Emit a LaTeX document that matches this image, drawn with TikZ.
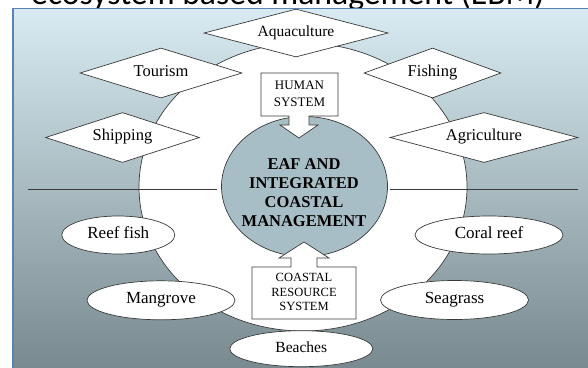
\documentclass[tikz,border=0pt]{standalone}
\usepackage{fontspec}
\setmainfont{Liberation Serif}
\newfontfamily\titlefont{Carlito}
\usetikzlibrary{shapes.geometric}
\definecolor{bgtop}{HTML}{D8EBF2}
\definecolor{bgbot}{HTML}{788A8F}
\definecolor{corefill}{HTML}{A8BEC6}
\definecolor{edgecol}{HTML}{3A3A3A}
\definecolor{framecol}{HTML}{5A82B4}
\begin{document}
\begin{tikzpicture}[x=1pt,y=-1pt,
  outl/.style={draw=edgecol, line width=0.7pt},
  dia/.style={diamond, outl, fill=white, inner sep=0pt, aspect=3.5,
    text height=0.66em, text depth=0pt, font=\fontsize{16.5}{18}\selectfont},
  oval/.style={ellipse, outl, fill=white, inner sep=0pt,
    text height=0.66em, text depth=0pt, font=\fontsize{17}{19}\selectfont},
  boxtext/.style={inner sep=0pt, align=center},
  sepline/.style={draw=edgecol, line width=0.8pt}]
\useasboundingbox (0,0) rectangle (588,367);
\begin{scope}
\clip (0,0) rectangle (588,367);
% title (cut off at the top)
\node[anchor=base west, inner sep=0pt, font=\titlefont\fontsize{33.7}{36}\selectfont] (title) at (31,4) {ecosystem based management (EBM)};
% panel
\shade[top color=bgtop, bottom color=bgbot] (13,8.5) rectangle (590,369);
\draw[framecol, line width=1.3pt] (13,369) -- (13,8.5) -- (590,8.5);
% outer white circle
\node[ellipse, outl, fill=white, inner sep=0pt, minimum width=328pt, minimum height=288pt] (outer) at (303,187) {};
% separator lines
\coordinate (l1) at (28,189);
\coordinate (l2) at (217,189);
\coordinate (r1) at (390,189);
\coordinate (r2) at (578,189);
\draw[sepline] (l1) -- (l2);
\draw[sepline] (r1) -- (r2);
% core
\node[ellipse, outl, fill=corefill, inner sep=0pt, minimum width=166pt, minimum height=140pt] (core) at (304.5,186.5) {};
\node[boxtext, font=\bfseries\fontsize{16.5}{19}\selectfont] (coretext) at (304,193) {EAF AND\\INTEGRATED\\COASTAL\\MANAGEMENT};
% human system callout
\draw[outl, fill=white] (261,116) -- (261,73) -- (338,73) -- (338,116) -- (309,116) -- (309,125) -- (318,125) -- (299,138) -- (280,125) -- (289,125) -- (289,116) -- cycle;
\node[boxtext, font=\fontsize{13}{16.7}\selectfont] (human) at (299.5,94) {HUMAN\\SYSTEM};
% coastal resource system callout
\draw[outl, fill=white] (252,267) -- (252,319) -- (356,319) -- (356,267) -- (317,267) -- (317,258) -- (329,258) -- (304,242) -- (279,258) -- (291,258) -- (291,267) -- cycle;
\node[boxtext, font=\fontsize{12.5}{14.2}\selectfont] (coastal) at (304,292) {COASTAL\\RESOURCE\\SYSTEM};
% diamonds
\node[dia, minimum width=184pt, minimum height=48pt, font=\fontsize{15.5}{17}\selectfont] (aqua) at (296,33) {Aquaculture};
\node[dia, minimum width=162pt, minimum height=50pt] (tour) at (161,73) {Tourism\hspace{12pt}};
\node[dia, minimum width=154pt, minimum height=50pt] (ship) at (122.5,137.5) {Shipping};
\node[dia, minimum width=137pt, minimum height=50pt] (fish) at (432.5,73) {Fishing\hspace{5pt}};
\node[dia, minimum width=188pt, minimum height=50pt] (agri) at (484,137.5) {Agriculture\hspace{4pt}};
% ovals
\node[oval, minimum width=113pt, minimum height=38pt] (reef) at (118.3,235) {Reef fish};
\node[oval, minimum width=148pt, minimum height=39pt] (mang) at (161,300.3) {Mangrove\hspace{18pt}};
\node[oval, minimum width=143pt, minimum height=36pt, font=\fontsize{15.5}{17}\selectfont] (beach) at (301.3,348.7) {Beaches};
\node[oval, minimum width=148pt, minimum height=38pt] (coral) at (489,235) {Coral reef\hspace{18pt}};
\node[oval, minimum width=148pt, minimum height=39pt] (sea) at (454.5,300) {Seagrass\hspace{28pt}};
\end{scope}
\end{tikzpicture}
\end{document}
